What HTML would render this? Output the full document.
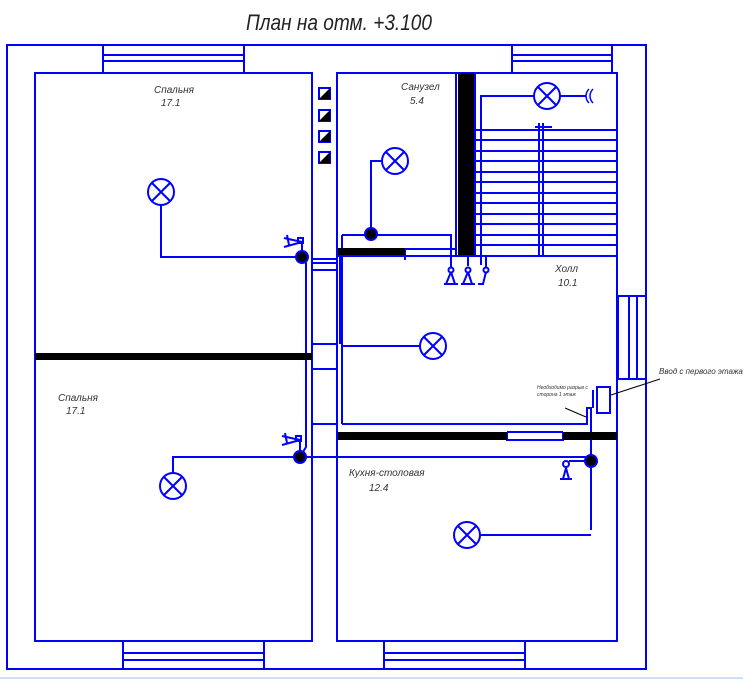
<!DOCTYPE html>
<html><head><meta charset="utf-8"><style>
html,body{margin:0;padding:0;background:#fff;width:743px;height:681px;overflow:hidden}
svg text{font-family:"Liberation Sans",sans-serif;font-style:italic;fill:#333}
</style></head><body>
<svg width="743" height="681" viewBox="0 0 743 681" xmlns="http://www.w3.org/2000/svg">
<g fill="none" stroke="#0000ff" stroke-width="2">
<rect x="7" y="45" width="639" height="624"/>
<rect x="35" y="73" width="277" height="568"/>
<rect x="337" y="73" width="280" height="568"/>
<!-- top windows -->
<rect x="103" y="45" width="141" height="28"/><line x1="103" y1="55" x2="244" y2="55"/><line x1="103" y1="61" x2="244" y2="61"/>
<rect x="512" y="45" width="100" height="28"/><line x1="512" y1="55" x2="612" y2="55"/><line x1="512" y1="61" x2="612" y2="61"/>
<!-- bottom windows -->
<rect x="123" y="641" width="141" height="28"/><line x1="123" y1="653" x2="264" y2="653"/><line x1="123" y1="660" x2="264" y2="660"/>
<rect x="384" y="641" width="141" height="28"/><line x1="384" y1="653" x2="525" y2="653"/><line x1="384" y1="660" x2="525" y2="660"/>
<!-- right window -->
<rect x="618" y="296" width="28" height="83"/><line x1="629" y1="296" x2="629" y2="379"/><line x1="637" y1="296" x2="637" y2="379"/>
<!-- sanuzel -->
<line x1="456" y1="73" x2="456" y2="255"/>
<line x1="475" y1="73" x2="475" y2="256"/>
<line x1="337" y1="256" x2="617" y2="256"/>
<line x1="337" y1="249" x2="456" y2="249"/>
<line x1="405" y1="249" x2="405" y2="260"/>
<!-- stairs -->
<g stroke-width="2">
<line x1="475" y1="130" x2="617" y2="130"/><line x1="475" y1="140" x2="617" y2="140"/><line x1="475" y1="151" x2="617" y2="151"/>
<line x1="475" y1="161" x2="617" y2="161"/><line x1="475" y1="172" x2="617" y2="172"/><line x1="475" y1="182" x2="617" y2="182"/>
<line x1="475" y1="193" x2="617" y2="193"/><line x1="475" y1="203" x2="617" y2="203"/><line x1="475" y1="214" x2="617" y2="214"/>
<line x1="475" y1="224" x2="617" y2="224"/><line x1="475" y1="235" x2="617" y2="235"/><line x1="475" y1="245" x2="617" y2="245"/>
</g>
<line x1="539" y1="123" x2="539" y2="256"/><line x1="543" y1="123" x2="543" y2="256"/><line x1="535" y1="127" x2="552" y2="127"/>
<!-- corridor -->
<line x1="312" y1="259" x2="337" y2="259"/><line x1="312" y1="263" x2="337" y2="263"/><line x1="312" y1="270" x2="337" y2="270"/>
<line x1="312" y1="344" x2="337" y2="344"/><line x1="312" y1="369" x2="337" y2="369"/><line x1="312" y1="424" x2="337" y2="424"/>
<line x1="340" y1="249" x2="340" y2="344"/><line x1="342" y1="235" x2="342" y2="424"/>
<!-- kitchen wall gap -->
<line x1="507" y1="432" x2="507" y2="441"/><line x1="563" y1="432" x2="563" y2="441"/>
<line x1="507" y1="432" x2="563" y2="432"/><line x1="507" y1="440" x2="563" y2="440"/>
<!-- wiring -->
<polyline points="161,205 161,257 302,257"/>
<polyline points="302,257 306,263 306,447 300,457"/>
<polyline points="173,473 173,457 591,457"/>
<polyline points="382,161 371,161 371,234"/>
<polyline points="342,235 451,235 451,265"/>
<polyline points="342,346 420,346"/>
<polyline points="342,424 587,424 587,408 591,408 591,530"/>
<polyline points="480,535 591,535"/>
<polyline points="481,265 481,96 534,96"/>
<polyline points="560,96 586,96"/>
<line x1="300" y1="457" x2="337" y2="457"/>
<!-- lamps -->
<circle cx="161" cy="192" r="13"/><line x1="152" y1="183" x2="170" y2="201"/><line x1="170" y1="183" x2="152" y2="201"/>
<circle cx="173" cy="486" r="13"/><line x1="164" y1="477" x2="182" y2="495"/><line x1="182" y1="477" x2="164" y2="495"/>
<circle cx="395" cy="161" r="13"/><line x1="386" y1="152" x2="404" y2="170"/><line x1="404" y1="152" x2="386" y2="170"/>
<circle cx="547" cy="96" r="13"/><line x1="538" y1="87" x2="556" y2="105"/><line x1="556" y1="87" x2="538" y2="105"/>
<circle cx="433" cy="346" r="13"/><line x1="424" y1="337" x2="442" y2="355"/><line x1="442" y1="337" x2="424" y2="355"/>
<circle cx="467" cy="535" r="13"/><line x1="458" y1="526" x2="476" y2="544"/><line x1="476" y1="526" x2="458" y2="544"/>
<!-- switches -->
<path d="M302 253 V242 M284 238 L302 242 L284 247 M287 235 L289 245"/><rect x="298" y="238" width="5" height="5"/>
<path d="M300 453 V440 M282 436 L300 440 L282 445 M285 433 L287 443"/><rect x="296" y="436" width="5" height="5"/>
<path d="M451 265 v3 M451 272 L446 284 M451 272 L455 284 M444 284 h14"/><circle cx="451" cy="270" r="2.5"/>
<path d="M468 256 v10 M468 272 L463 284 M468 272 L472 284 M461 284 h14"/><circle cx="468" cy="270" r="2.5"/>
<path d="M486 256 v12 M486 272 L483 284 H478"/><circle cx="486" cy="270" r="2.5"/>
<path d="M569 461 H587 M566 468 L563 479 M566 468 L569 479 M560 479 h12"/><circle cx="566" cy="464" r="3"/>
<path d="M589 89 C585 93 585 99 589 103 M593 89 C589 93 589 99 593 103" stroke-width="1.5"/>
<!-- box -->
<rect x="597" y="387" width="13" height="26"/><line x1="593" y1="390" x2="593" y2="408"/>
</g>
<g fill="#000">
<rect x="458" y="73" width="16" height="182"/>
<rect x="338" y="248" width="67" height="7"/>
<rect x="35" y="353" width="277" height="7"/>
<rect x="338" y="432" width="169" height="8"/>
<rect x="563" y="432" width="54" height="8"/>
<circle cx="302" cy="257" r="6"/><circle cx="300" cy="457" r="6"/>
<circle cx="371" cy="234" r="6"/><circle cx="591" cy="461" r="6"/>
</g>
<g stroke="#0000ff" stroke-width="2" fill="none">
<circle cx="302" cy="257" r="6"/><circle cx="300" cy="457" r="6"/><circle cx="371" cy="234" r="6"/><circle cx="591" cy="461" r="6"/>
</g>
<!-- ventilation squares -->
<g stroke="#0000ff" stroke-width="2">
<rect x="319" y="88" width="11" height="11" fill="#fff"/><polygon points="330,88 330,99 319,99" fill="#000" stroke="none"/>
<rect x="319" y="110" width="11" height="11" fill="#fff"/><polygon points="330,110 330,121 319,121" fill="#000" stroke="none"/>
<rect x="319" y="131" width="11" height="11" fill="#fff"/><polygon points="330,131 330,142 319,142" fill="#000" stroke="none"/>
<rect x="319" y="152" width="11" height="11" fill="#fff"/><polygon points="330,152 330,163 319,163" fill="#000" stroke="none"/>
</g>
<line x1="565" y1="408" x2="586" y2="417" stroke="#000" stroke-width="1"/>
<line x1="611" y1="395" x2="660" y2="379" stroke="#000" stroke-width="1"/>
<line x1="0" y1="678" x2="743" y2="678" stroke="#cfe0f5" stroke-width="2"/>
<text x="246" y="30" font-size="22" textLength="186" lengthAdjust="spacingAndGlyphs" style="fill:#222">План на отм. +3.100</text>
<text x="154" y="93" font-size="10">Спальня</text><text x="161" y="106" font-size="10">17.1</text>
<text x="58" y="401" font-size="10">Спальня</text><text x="66" y="414" font-size="10">17.1</text>
<text x="401" y="90" font-size="10">Санузел</text><text x="410" y="104" font-size="10">5.4</text>
<text x="555" y="272" font-size="10">Холл</text><text x="558" y="286" font-size="10">10.1</text>
<text x="349" y="476" font-size="10">Кухня-столовая</text><text x="369" y="491" font-size="10">12.4</text>
<text x="537" y="389" font-size="5">Необходимо разрыв с</text><text x="537" y="396" font-size="5">сторона 1 этаж</text>
<text x="659" y="374" font-size="8">Ввод с первого этажа</text>
</svg>
</body></html>
